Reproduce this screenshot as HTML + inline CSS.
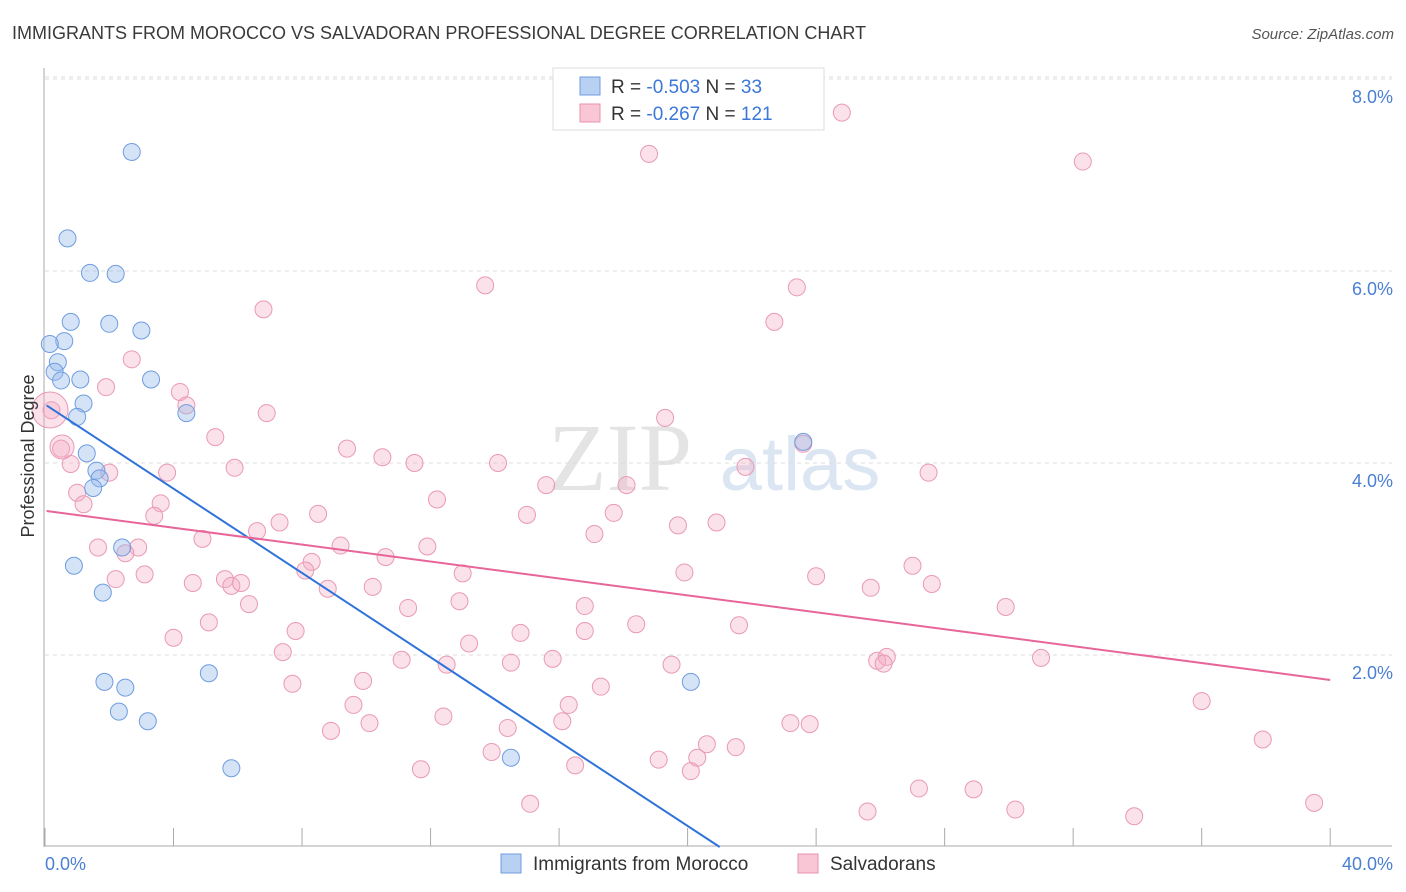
<!DOCTYPE html>
<html><head><meta charset="utf-8">
<style>
body{margin:0;background:#fff;font-family:"Liberation Sans",sans-serif;}
svg{display:block}
</style></head>
<body>
<svg id="chart" width="1406" height="892">
  <text x="12" y="39" font-size="18" fill="#3a3a3a">IMMIGRANTS FROM MOROCCO VS SALVADORAN PROFESSIONAL DEGREE CORRELATION CHART</text>
  <text x="1394" y="39" font-size="15" fill="#555" font-style="italic" text-anchor="end">Source: ZipAtlas.com</text>
  <text x="620" y="490" font-size="96" fill="#e4e4e4" font-family="Liberation Serif,serif" text-anchor="middle">ZIP</text>
  <text x="800" y="490" font-size="76" fill="#dce6f3" text-anchor="middle">atlas</text>
  <g id="grid"></g>
  <g id="pts"></g>
  <g id="lines"></g>
  <text transform="translate(34,456) rotate(-90)" font-size="18" fill="#333" text-anchor="middle">Professional Degree</text>
  <text x="45" y="870" font-size="18" fill="#4a7fd4">0.0%</text>
  <text x="1393" y="870" font-size="18" fill="#4a7fd4" text-anchor="end">40.0%</text>
  <g>
    <rect x="553" y="68" width="271" height="62" fill="#fff" stroke="#ddd"/>
    <rect x="580" y="77" width="20" height="18" fill="#b8d0f2" stroke="#6f9de0"/>
    <rect x="580" y="104" width="20" height="18" fill="#f8c6d4" stroke="#e892ac"/>
    <text x="611" y="93" font-size="19" fill="#333">R = <tspan fill="#3b78d8">-0.503</tspan>   N = <tspan fill="#3b78d8"> 33</tspan></text>
    <text x="611" y="120" font-size="19" fill="#333">R = <tspan fill="#3b78d8"> -0.267</tspan>   N = <tspan fill="#3b78d8">121</tspan></text>
  </g>
  <g>
    <rect x="501" y="854" width="20" height="19" fill="#b8d0f2" stroke="#6f9de0"/>
    <text x="533" y="870" font-size="19" fill="#333">Immigrants from Morocco</text>
    <rect x="798" y="854" width="20" height="19" fill="#f8c6d4" stroke="#e892ac"/>
    <text x="830" y="870" font-size="19" fill="#333">Salvadorans</text>
  </g>
</svg>
<script>
const blueX=[2.7,0.7,1.4,2.2,0.8,2.0,3.0,0.6,0.15,0.4,0.3,0.5,1.1,3.3,1.2,1.0,4.4,1.3,1.6,1.7,1.5,2.4,0.9,1.8,1.85,2.5,5.1,2.3,3.2,5.8,14.5,20.1,23.6];
const blueY=[7.24,6.34,5.98,5.97,5.47,5.45,5.38,5.27,5.24,5.05,4.95,4.86,4.87,4.87,4.62,4.48,4.52,4.1,3.92,3.84,3.74,3.12,2.93,2.65,1.72,1.66,1.81,1.41,1.31,0.82,0.93,1.72,4.22];
const blueR=[7,7,7,7,7,7,7,7,7,7,7,7,7,7,7,7,7,7,7,7,7,7,7,7,7,7,7,7,7,7,7,7,7];
const pinkX=[18.8,24.8,32.3,13.7,23.4,6.8,22.7,2.7,1.9,4.2,4.4,6.9,0.2,0.5,0.8,5.3,9.4,10.5,11.5,14.1,19.3,23.6,21.8,27.5,5.9,3.8,2.0,1.0,1.2,3.6,3.4,12.2,15.6,18.1,15.0,17.7,8.5,7.3,6.6,19.7,20.9,17.1,4.9,1.65,2.9,2.5,9.2,11.9,8.3,10.6,8.1,3.1,2.2,4.6,5.6,5.8,6.1,13.0,19.9,24.0,27.0,8.8,10.2,25.7,27.6,6.35,11.3,12.9,16.8,29.9,5.1,7.8,4.0,13.2,14.8,16.8,18.4,21.6,7.4,11.1,12.5,14.5,15.8,19.5,25.9,26.2,26.1,31.0,7.7,9.9,17.3,9.6,16.3,12.4,10.1,8.9,14.4,16.1,23.2,23.8,36.0,13.9,20.6,21.5,20.3,19.1,16.5,11.7,20.1,37.9,27.2,28.9,15.1,25.6,30.2,33.9,39.5];
const pinkY=[7.22,7.65,7.14,5.85,5.83,5.6,5.47,5.08,4.79,4.74,4.6,4.52,4.55,4.15,3.99,4.27,4.15,4.06,4.0,4.0,4.47,4.2,3.96,3.9,3.95,3.9,3.9,3.69,3.57,3.58,3.45,3.62,3.77,3.77,3.46,3.48,3.47,3.38,3.29,3.35,3.38,3.26,3.21,3.12,3.12,3.06,3.14,3.13,2.97,3.02,2.88,2.84,2.79,2.75,2.79,2.72,2.75,2.85,2.86,2.82,2.93,2.69,2.71,2.7,2.74,2.53,2.49,2.56,2.51,2.5,2.34,2.25,2.18,2.12,2.23,2.25,2.32,2.31,2.03,1.95,1.9,1.92,1.96,1.9,1.94,1.98,1.91,1.97,1.7,1.73,1.67,1.48,1.48,1.36,1.29,1.21,1.24,1.31,1.29,1.28,1.52,0.99,1.07,1.04,0.93,0.91,0.85,0.81,0.79,1.12,0.61,0.6,0.45,0.37,0.39,0.32,0.46];
const bx0=0.05,by0=4.6,bx1=21.0,by1=0.0;
const px0=0.05,py0=3.5,px1=40.0,py1=1.74;
const yTicks=[2,4,6,8];
const xTicks=[0,4,8,12,16,20,24,28,32,36,40];
const NS="http://www.w3.org/2000/svg";
const X=v=>45+v*32.13, Y=v=>847-v*96;
function mk(tag,attrs,parent){const e=document.createElementNS(NS,tag);for(const k in attrs)e.setAttribute(k,attrs[k]);parent.appendChild(e);return e;}
const grid=document.getElementById('grid');
yTicks.forEach(t=>{
  const l=mk('line',{x1:45,x2:1392,y1:Y(t),y2:Y(t),stroke:'#ddd','stroke-dasharray':'4,4'},grid);
  
  
  const tx=mk('text',{x:1393,y:Y(t)+24,'font-size':18,fill:'#4a7fd4','text-anchor':'end'},grid);
  tx.textContent=t.toFixed(1)+'%';
  
  
});
const gl=mk('line',{x1:45,x2:1392,y1:Y(8)-2,y2:Y(8)-2,stroke:'#ddd','stroke-dasharray':'4,4'},grid);
const ax=mk('line',{x1:44,x2:44,y1:68,y2:847,stroke:'#aaa'},grid);


const axb=mk('line',{x1:44,x2:1392,y1:846,y2:846,stroke:'#aaa'},grid);


xTicks.forEach(t=>{
  const l=mk('line',{x1:X(t),x2:X(t),y1:828,y2:846,stroke:'#aaa'},grid);
  
  
});
const pts=document.getElementById('pts');
pinkX.forEach((x,i)=>{
  const c=mk('circle',{cx:X(x),cy:Y(pinkY[i]),r:8.5,fill:'rgba(244,170,195,0.35)',stroke:'#e99ab3','stroke-width':1},pts);
  
  
});
const big1=mk('circle',{cx:50,cy:410,r:18,fill:'rgba(244,170,195,0.35)',stroke:'#e99ab3'},pts);


const big2=mk('circle',{cx:62,cy:447,r:12,fill:'rgba(244,170,195,0.35)',stroke:'#e99ab3'},pts);


blueX.forEach((x,i)=>{
  const c=mk('circle',{cx:X(x),cy:Y(blueY[i]),r:8.5,fill:'rgba(150,185,235,0.4)',stroke:'#6f9de0','stroke-width':1},pts);
  
  
});
const lines=document.getElementById('lines');
const bl=mk('line',{x1:X(bx0),y1:Y(by0),x2:X(bx1),y2:Y(by1),stroke:'#2f73d9','stroke-width':2},lines);


const pl=mk('line',{x1:X(px0),y1:Y(py0),x2:X(px1),y2:Y(py1),stroke:'#e8659a','stroke-width':2},lines);


</script>
</body></html>
